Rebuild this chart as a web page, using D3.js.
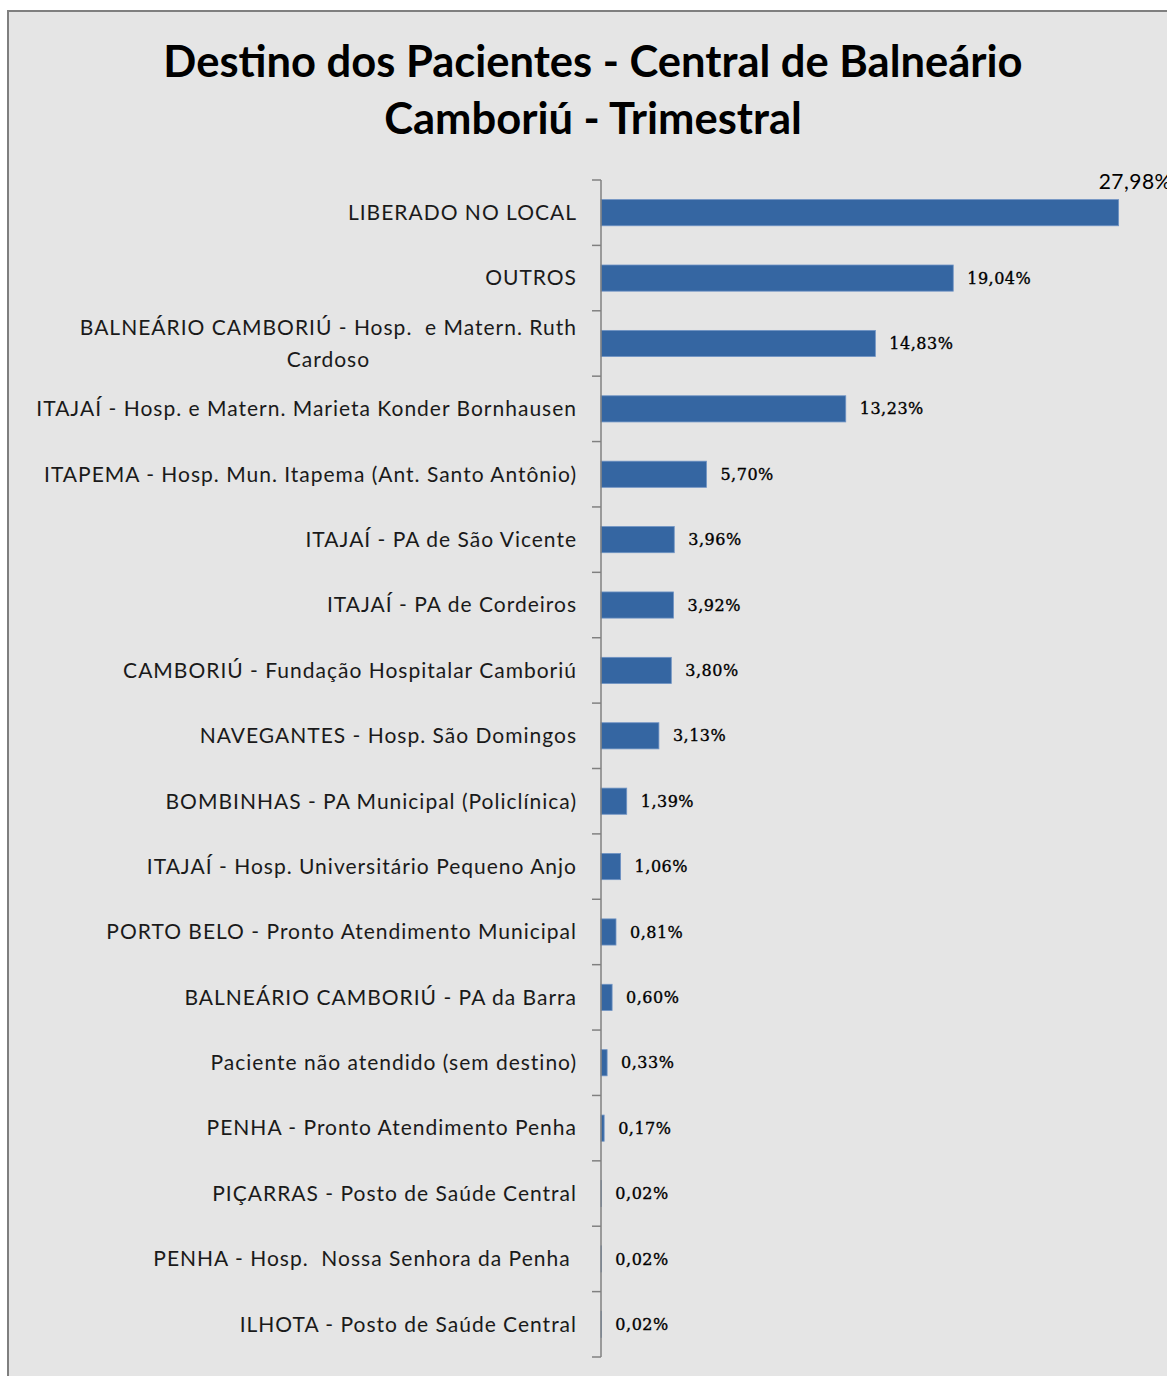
<!DOCTYPE html>
<html><head><meta charset="utf-8">
<script src="https://cdn.jsdelivr.net/npm/d3@7"></script>
<style>body{margin:0;background:#fff;overflow:hidden}</style>
</head><body>
<svg id="c" width="1167" height="1376"></svg>
<script>
const categories = [
  "LIBERADO NO LOCAL",
  "OUTROS",
  "BALNEÁRIO CAMBORIÚ - Hosp.  e Matern. Ruth|Cardoso",
  "ITAJAÍ - Hosp. e Matern. Marieta Konder Bornhausen",
  "ITAPEMA - Hosp. Mun. Itapema (Ant. Santo Antônio)",
  "ITAJAÍ - PA de São Vicente",
  "ITAJAÍ - PA de Cordeiros",
  "CAMBORIÚ - Fundação Hospitalar Camboriú",
  "NAVEGANTES - Hosp. São Domingos",
  "BOMBINHAS - PA Municipal (Policlínica)",
  "ITAJAÍ - Hosp. Universitário Pequeno Anjo",
  "PORTO BELO - Pronto Atendimento Municipal",
  "BALNEÁRIO CAMBORIÚ - PA da Barra",
  "Paciente não atendido (sem destino)",
  "PENHA - Pronto Atendimento Penha",
  "PIÇARRAS - Posto de Saúde Central",
  "PENHA - Hosp.  Nossa Senhora da Penha ",
  "ILHOTA - Posto de Saúde Central"
];
const values = [27.98, 19.04, 14.83, 13.23, 5.70, 3.96, 3.92, 3.80, 3.13, 1.39, 1.06, 0.81, 0.60, 0.33, 0.17, 0.02, 0.02, 0.02];
const titleLines = ["Destino dos Pacientes - Central de Balneário", "Camboriú - Trimestral"];

const svg = d3.select("#c");
// chart area background + border
svg.append("rect").attr("x", 8).attr("y", 11).attr("width", 1200).attr("height", 1400)
  .attr("fill", "#e5e5e5").attr("stroke", "#7f7f7f").attr("stroke-width", 2);

svg.append("g").selectAll("text").data(titleLines).join("text")
  .attr("x", 593).attr("y", (d, i) => 77 + i * 57)
  .attr("text-anchor", "middle")
  .attr("font-family", "Lato, sans-serif").attr("font-weight", "bold")
  .attr("font-size", 43.5).attr("fill", "#000").text(d => d);

const x = d3.scaleLinear().domain([0, 28]).range([601, 1119]);
const y = d3.scaleBand().domain(categories).range([180, 1357]).paddingInner(0.6).paddingOuter(0.3);
const band = d3.scaleBand().domain(categories).range([180, 1357]);

// bars
svg.append("g").selectAll("rect").data(values).join("rect")
  .attr("x", x(0)).attr("y", (d, i) => y(categories[i]))
  .attr("width", d => x(d) - x(0)).attr("height", y.bandwidth())
  .attr("fill", "#3566a2").attr("stroke", "#6f93c4").attr("stroke-width", 0.8);

// axis line and ticks at band boundaries
const ax = svg.append("g").attr("stroke", "#808080").attr("stroke-width", 1.5);
ax.append("line").attr("x1", x(0)).attr("x2", x(0)).attr("y1", band.range()[0]).attr("y2", band.range()[1]);
const bounds = categories.map(c => band(c)).concat([band.range()[1]]);
ax.selectAll("line.t").data(bounds).join("line").attr("class", "t")
  .attr("x1", x(0) - 9).attr("x2", x(0)).attr("y1", d => d).attr("y2", d => d);

// category labels
const lg = svg.append("g").attr("font-family", "Lato, sans-serif").attr("font-size", 21)
  .attr("letter-spacing", 1).attr("fill", "#1a1a1a");
categories.forEach((c, i) => {
  const lines = c.split("|");
  const cy = band(c) + band.bandwidth() / 2;
  if (lines.length === 1) {
    lg.append("text").attr("x", 577).attr("y", cy).attr("dy", "0.35em")
      .attr("text-anchor", "end").style("white-space", "pre").text(lines[0]);
  } else {
    const t = lg.append("text").style("white-space", "pre").text(lines[0]);
    const w = t.node().getComputedTextLength();
    t.remove();
    lines.forEach((l, j) => {
      lg.append("text").attr("x", 577 - w / 2).attr("y", cy + (j - (lines.length - 1) / 2) * 32)
        .attr("dy", "0.35em").attr("text-anchor", "middle").style("white-space", "pre").text(l);
    });
  }
});

// value labels
const fmt = v => d3.format(".2f")(v).replace(".", ",") + "%";
const maxV = d3.max(values);
svg.append("g").selectAll("text").data(values).join("text")
  .attr("x", d => d === maxV ? x(d) - 20 : x(d) + 14)
  .attr("y", (d, i) => d === maxV ? band(categories[i]) + 2 : band(categories[i]) + band.bandwidth() / 2)
  .attr("dy", "0.35em")
  .attr("font-family", d => d === maxV ? "Lato, sans-serif" : "'DejaVu Serif', serif")
  .attr("font-size", d => d === maxV ? 21 : 16)
  .attr("letter-spacing", d => d === maxV ? 0.5 : 0.5)
  .attr("stroke", d => d === maxV ? "none" : "#000").attr("stroke-width", 0.35)
  .attr("fill", "#000")
  .text(fmt);
</script>
</body></html>
